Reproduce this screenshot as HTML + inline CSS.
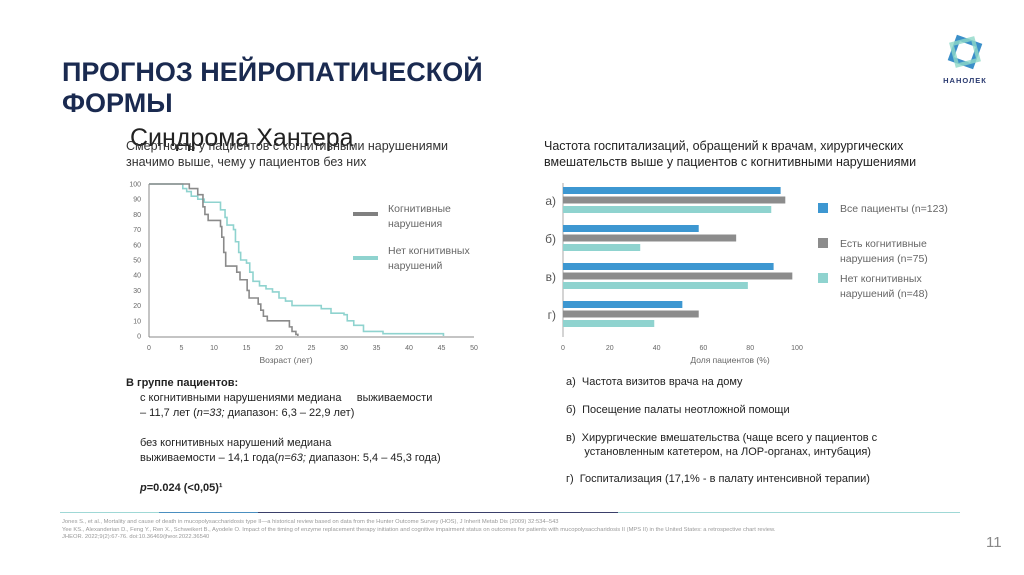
<!DOCTYPE html>
<html><head><meta charset="utf-8"><style>
body{margin:0;width:1024px;height:575px;background:#fff;font-family:"Liberation Sans",sans-serif;position:relative;overflow:hidden;color:#333}
.a{position:absolute;margin:0}
</style></head><body>
<h1 class="a" style="left:62px;top:57px;font-size:27px;line-height:31px;font-weight:bold;color:#1a2a50">ПРОГНОЗ НЕЙРОПАТИЧЕСКОЙ<br>ФОРМЫ</h1>
<div class="a" style="left:130px;top:124px;font-size:25px;color:#222">Синдрома Хантера</div>
<div class="a" style="left:126px;top:138px;font-size:12.5px;line-height:16px;color:#333">Смертность у пациентов с когнитивными нарушениями<br>значимо выше, чему у пациентов без них</div>
<div class="a" style="left:544px;top:138px;font-size:12.5px;line-height:16px;color:#222">Частота госпитализаций, обращений к врачам, хирургических<br>вмешательств выше у пациентов с когнитивными нарушениями</div>
<svg class="a" style="left:935px;top:30px" width="60" height="60">
<rect x="19" y="11" width="22" height="22" fill="none" stroke="#3b8fc9" stroke-width="5" transform="rotate(20 30 22)"/>
<rect x="19" y="11" width="22" height="22" fill="none" stroke="#8fd8c8" stroke-width="4" opacity=".8" transform="rotate(-15 30 22)"/>
<text x="30" y="53" font-size="7.5" text-anchor="middle" fill="#2a3a70" font-weight="bold" letter-spacing="1">НАНОЛЕК</text></svg>
<svg class="a" id="surv" style="left:100px;top:170px" width="420" height="200"></svg>
<svg class="a" id="bars" style="left:530px;top:170px" width="460" height="200"></svg>
<div class="a" style="left:126px;top:376px;font-size:11px;line-height:15px;color:#222">
<b>В группе пациентов:</b><br>
<div style="padding-left:14px">с когнитивными нарушениями медиана &nbsp; &nbsp; выживаемости<br>– 11,7 лет (<i>n=33;</i> диапазон: 6,3 – 22,9 лет)<br><br>без когнитивных нарушений медиана<br>выживаемости – 14,1 года(<i>n=63;</i> диапазон: 5,4 – 45,3 года)<br><br><b><i>p</i>=0.024 (&lt;0,05)¹</b></div></div>
<div class="a" style="left:566px;top:375px;font-size:11px;color:#222;line-height:14px">
<div style="position:absolute;top:0;width:400px">а) &nbsp;Частота визитов врача на дому</div>
<div style="position:absolute;top:28px;width:400px">б) &nbsp;Посещение палаты неотложной помощи</div>
<div style="position:absolute;top:56px;width:400px">в) &nbsp;Хирургические вмешательства (чаще всего у пациентов с<br>&nbsp; &nbsp; &nbsp; установленным катетером, на ЛОР-органах, интубация)</div>
<div style="position:absolute;top:97px;width:400px">г) &nbsp;Госпитализация (17,1% - в палату интенсивной терапии)</div></div>
<div class="a" style="left:60px;top:512px;width:900px;height:1px;background:linear-gradient(90deg,#9fd8d6 0 11%,#4a8fc0 11% 22%,#3a3f6a 22% 62%,#9fd8d6 62%)"></div>
<div class="a" style="left:62px;top:519px;font-size:5.8px;line-height:7.5px;color:#999;white-space:nowrap">Jones S., et al., Mortality and cause of death in mucopolysaccharidosis type II—a historical review based on data from the Hunter Outcome Survey (HOS), J Inherit Metab Dis (2009) 32:534–543<br>Yee KS., Alexanderian D., Feng Y., Ren X., Schweikert B., Ayodele O. Impact of the timing of enzyme replacement therapy initiation and cognitive impairment status on outcomes for patients with mucopolysaccharidosis II (MPS II) in the United States: a retrospective chart review.<br>JHEOR. 2022;9(2):67-76. doi:10.36469/jheor.2022.36540</div>
<div class="a" style="left:986px;top:534px;font-size:15px;color:#888">11</div>
<script>
const NS='http://www.w3.org/2000/svg';
function mk(p,t,a,txt){const e=document.createElementNS(NS,t);for(const k in a)e.setAttribute(k,a[k]);if(txt!=null)e.textContent=txt;p.appendChild(e);return e;}
const xTicks=[0,5,10,15,20,25,30,35,40,45,50];
const yTicks=[0,10,20,30,40,50,60,70,80,90,100];
const cogT=[0,6.2,7.5,8.3,8.6,9.1,9.7,11,11.2,11.5,11.8,13.5,14,15.1,15.4,16.8,17.2,17.6,18.2,18.8,21.6,22,22.6,22.9];
const cogS=[100,97,93,85,80,76,76,72,65,55,46,42,37,30,25,21,17,13,10,10,6,3,1,0];
const noT=[0,5.2,5.8,6.5,7.5,8.5,9.8,11,11.7,12,13,13.3,13.8,14.1,15,15.5,16,17,18,19,20,21,22,26.5,28,30,30.5,31.5,33,36,45.3];
const noS=[100,97,95,92,90,88,88,83,78,73,70,62,55,50,48,42,36,33,31,29,25,23,20,18,15,14,10,7,3,1.5,0];
const s=document.getElementById('surv');
const sx=v=>49+v*6.5, sy=v=>166-v*1.52;
mk(s,'line',{x1:49,y1:14,x2:49,y2:167,stroke:'#888','stroke-width':1});
mk(s,'line',{x1:49,y1:167,x2:374,y2:167,stroke:'#888','stroke-width':1});
xTicks.forEach(t=>{const tk=mk(s,'text',{x:sx(t),y:180,'font-size':7,'text-anchor':'middle',fill:'#666'},t);});
yTicks.forEach(t=>{const tk=mk(s,'text',{x:41,y:sy(t)+2.5,'font-size':7,'text-anchor':'end',fill:'#666'},t);});
const xt=mk(s,'text',{x:186,y:193,'font-size':8.5,'text-anchor':'middle',fill:'#666'},'Возраст (лет)');

function step(T,S,c,name){let d='M'+sx(T[0])+' '+sy(S[0]);for(let i=1;i<T.length;i++){d+=' H'+sx(T[i])+' V'+sy(S[i]);}const p=mk(s,'path',{d:d,fill:'none',stroke:c,'stroke-width':1.6});}
step(noT,noS,'#8fd3cf','line-no-impairment');
step(cogT,cogS,'#8a8a8a','line-cognitive');
mk(s,'rect',{x:253,y:42,width:25,height:4,fill:'#808080'});
mk(s,'text',{x:288,y:42,'font-size':10.5,fill:'#666'},'Когнитивные');
mk(s,'text',{x:288,y:57,'font-size':10.5,fill:'#666'},'нарушения');
mk(s,'rect',{x:253,y:86,width:25,height:4,fill:'#8fd3cf'});
mk(s,'text',{x:288,y:84,'font-size':10.5,fill:'#666'},'Нет когнитивных');
mk(s,'text',{x:288,y:99,'font-size':10.5,fill:'#666'},'нарушений');
const cats=['а)','б)','в)','г)'];
const allP=[93,58,90,51];
const cogP=[95,74,98,58];
const noP=[89,33,79,39];
const bTicks=[0,20,40,60,80,100];
const b=document.getElementById('bars');
const bx=v=>33+v*2.34;
mk(b,'line',{x1:33,y1:13,x2:33,y2:167,stroke:'#aaa'});
bTicks.forEach(t=>{const tk=mk(b,'text',{x:bx(t),y:180,'font-size':7,'text-anchor':'middle',fill:'#666'},t);});
const bt=mk(b,'text',{x:200,y:193,'font-size':8.5,'text-anchor':'middle',fill:'#666'},'Доля пациентов (%)');

const series=[[allP,'#3d97d1'],[cogP,'#8c8c8c'],[noP,'#8fd3cf']];
cats.forEach((c,i)=>{const g0=17+i*38;
 const l=mk(b,'text',{x:26,y:g0+18,'font-size':12,'text-anchor':'end',fill:'#555'},c);
 series.forEach(([arr,col],j)=>{const r=mk(b,'rect',{x:33,y:g0+j*9.5,width:arr[i]*2.34,height:7,fill:col});});});
const leg=[['Все пациенты (n=123)'],['Есть когнитивные','нарушения (n=75)'],['Нет когнитивных','нарушений (n=48)']];
leg.forEach((t,i)=>{const y=33+i*35;mk(b,'rect',{x:288,y:y,width:10,height:10,fill:series[i][1]});
 t.forEach((ln,k)=>mk(b,'text',{x:310,y:y+9+k*15,'font-size':10.5,fill:'#666'},ln));});
</script>
</body></html>
